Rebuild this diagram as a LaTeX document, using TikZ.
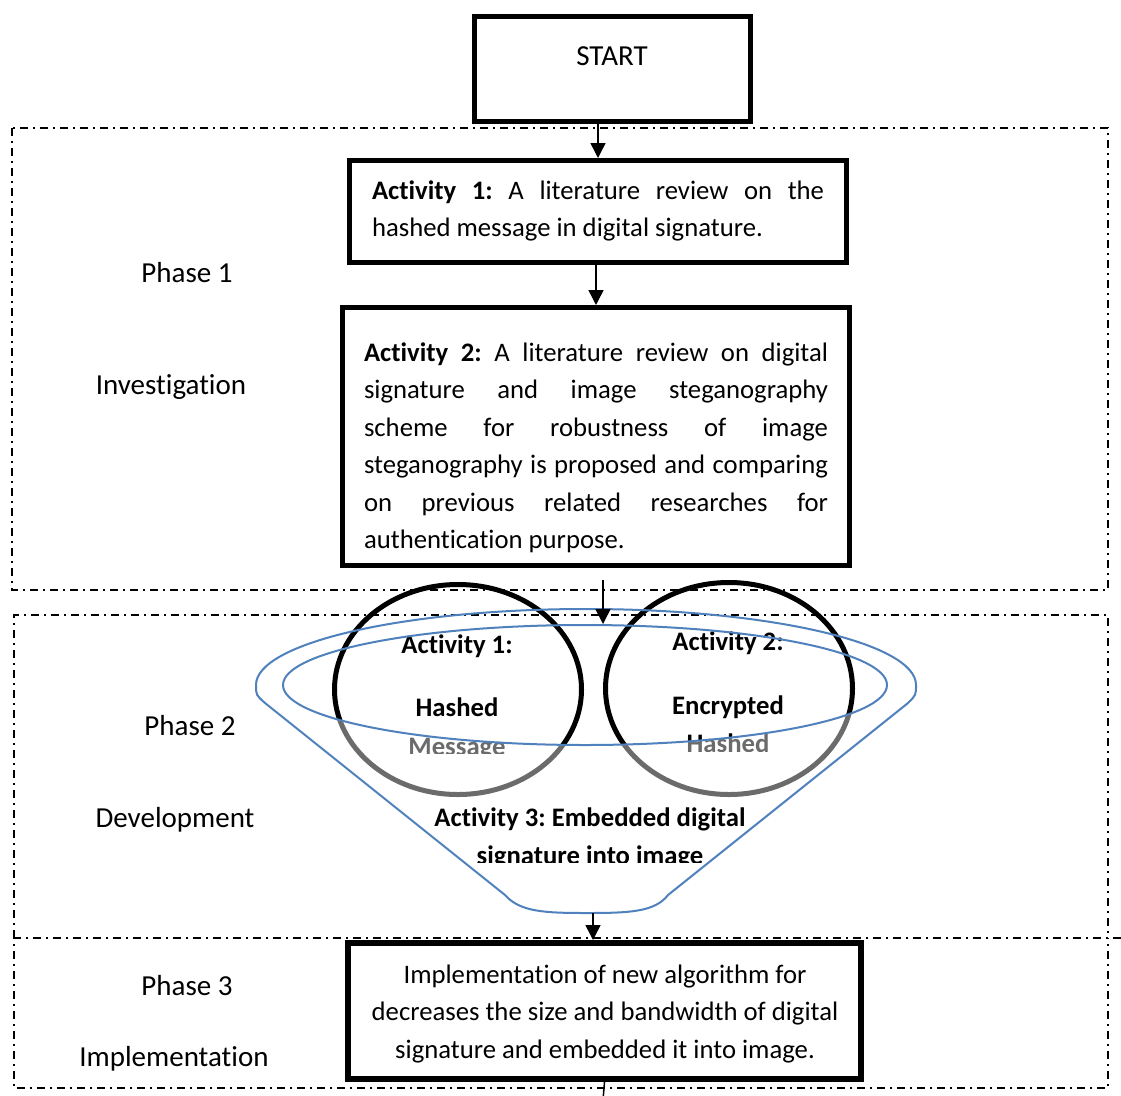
\documentclass[tikz,border=0pt]{standalone}
\usepackage{fontspec}
\setmainfont{Carlito}[Ligatures=NoCommon]
\usetikzlibrary{arrows.meta,shapes.geometric}
\definecolor{funblue}{RGB}{79,129,189}
\frenchspacing
\begin{document}
\begin{tikzpicture}[x=1pt,y=-1pt,
  boxst/.style={draw, line width=5pt, inner sep=0pt},
  btxt/.style={font=\fontsize{26.7}{37.5}\selectfont, inner sep=0pt},
  lbl/.style={font=\fontsize{29}{34}\selectfont, inner sep=0pt, text height=20pt, text depth=6pt},
  ctxt/.style={font=\fontsize{26.7}{32}\selectfont\bfseries, inner sep=0pt, anchor=base},
  phasebox/.style={line width=1.8pt, dash pattern=on 8pt off 5pt on 2pt off 5pt},
  arr/.style={line width=1.5pt, -{Triangle[length=15pt,width=15pt]}},
  funnelline/.style={draw=funblue, line width=2pt},
  circ/.style={draw, ellipse, line width=5pt, inner sep=0pt, minimum width=247pt}]
\useasboundingbox (0,0) rectangle (1121,1095);
\fill[white] (0,0) rectangle (1121,1095);

% phase regions
\draw[phasebox] (12,128) rectangle (1108,590);
\draw[phasebox] (14,938) -- (14,615) -- (1108,615) -- (1108,938);
\draw[phasebox] (1121,938) -- (14,938) -- (14,1088) -- (1108,1088) -- (1108,938);

% phase labels
\node[lbl] (ph1) at (187,275) {Phase 1};
\node[lbl] (inv) at (171,387) {Investigation};
\node[lbl] (ph2) at (190,728) {Phase 2};
\node[lbl] (dev) at (175,820) {Development};
\node[lbl] (ph3) at (187,988) {Phase 3};
\node[lbl] (impl) at (174,1059) {Implementation};

% start
\node[boxst, minimum width=276pt, minimum height=105pt] (start) at (612.5,69) {};
\node[lbl] (starttext) at (612,58) {START};

% activity 1
\node[boxst, minimum width=497pt, minimum height=102pt] (act1) at (598,211.5) {};
\node[btxt, text width=452pt, align=justify] (act1text) at (598,210.5)
  {\strut\textbf{Activity 1:} A literature review on the\linebreak hashed message in digital signature.\strut};

% activity 2
\node[boxst, minimum width=507pt, minimum height=258pt] (act2) at (596,436.5) {};
\node[btxt, text width=464pt, align=justify] (act2text) at (596,447.5)
  {\strut\textbf{Activity 2:} A literature review on digital\linebreak signature and image steganography\linebreak scheme for robustness of image\linebreak steganography is proposed and comparing\linebreak on previous related researches for\linebreak authentication purpose.\strut};

\draw[arr] (act1.north |- start.south) -- (act1.north);
\draw[arr] (act2.north |- act1.south) -- (act2.north);

% circles
\node[circ, minimum height=210pt] (c1) at (458,689.5) {};
\node[circ, minimum height=212pt] (c2) at (729,688.5) {};
\node[ctxt] (c1a) at (457,653) {Activity 1:};
\node[ctxt] (c1b) at (457,716) {Hashed};
\begin{scope}
  \clip (380,720) rectangle (540,753);
  \node[ctxt] (c1c) at (457,755) {Message};
\end{scope}
\node[ctxt] (c2a) at (728,650) {Activity 2:};
\node[ctxt] (c2b) at (728,714) {Encrypted};
\begin{scope}
  \clip (650,720) rectangle (810,751);
  \node[ctxt] (c2c) at (728,752) {Hashed};
\end{scope}

% translucent funnel body
\fill[white, fill opacity=0.42] (256,685) .. controls (256,695) .. (265,703) -- (505,895)
  .. controls (520,912) and (545,913) .. (587,913)
  .. controls (629,913) and (655,912) .. (668,895) -- (908,703)
  .. controls (916,695) .. (916,685) -- (887,685)
  arc[start angle=0, end angle=180, x radius=302, y radius=60] -- cycle;

% funnel outline
\draw[funnelline] (256,685) .. controls (256,695) .. (265,703) -- (505,895)
  .. controls (520,912) and (545,913) .. (587,913)
  .. controls (629,913) and (655,912) .. (668,895) -- (908,703)
  .. controls (916,695) .. (916,685)
  arc[start angle=0, end angle=-180, x radius=330, y radius=76] -- cycle;
\node[draw=funblue, line width=2pt, ellipse, inner sep=0pt, minimum width=604pt, minimum height=120pt] (inner) at (585,685) {};

\node[ctxt] (a3a) at (590,826) {Activity 3: Embedded digital};
\begin{scope}
  \clip (400,830) rectangle (800,862);
  \node[ctxt] (a3b) at (590,864) {signature into image};
\end{scope}

\coordinate (a2out) at (603,580);
\draw[arr] (a2out) -- (a2out |- inner.north);

% phase 3 box
\node[boxst, line width=6pt, minimum width=513pt, minimum height=136pt] (p3) at (604.5,1011) {};
\node[btxt, align=center] (p3text) at (605,1013)
  {\strut Implementation of new algorithm for\\decreases the size and bandwidth of digital\\signature and embedded it into image.\strut};

\coordinate (funbot) at (593,913);
\draw[arr] (funbot) -- (funbot |- p3.north);
\coordinate (endp) at (603,1100);
\draw[line width=1.5pt] (p3.south) -- (endp);
\end{tikzpicture}
\end{document}
